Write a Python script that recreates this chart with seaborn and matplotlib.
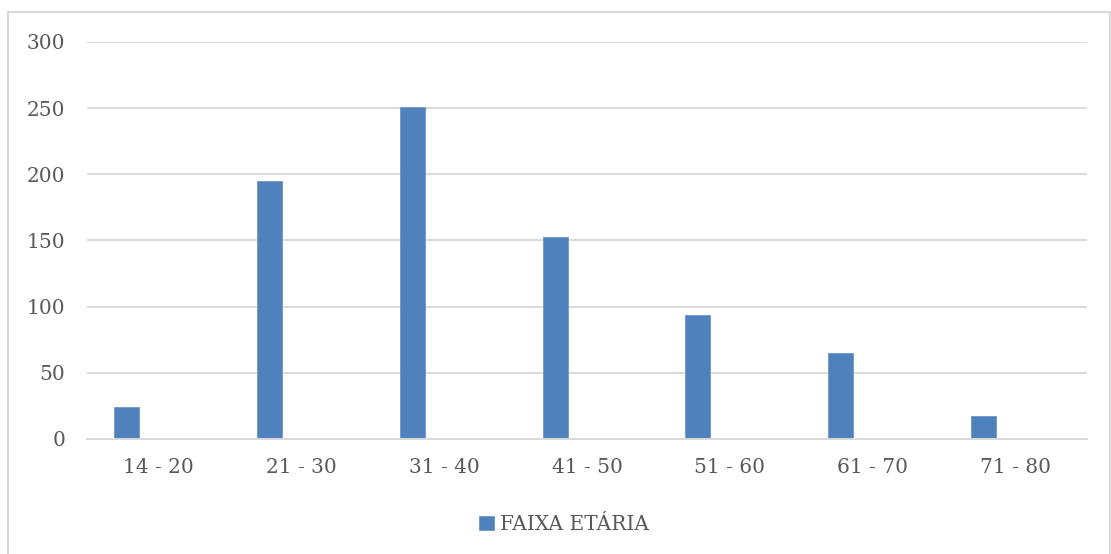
import matplotlib
matplotlib.use("Agg")
import matplotlib.pyplot as plt
import seaborn as sns
import pandas as pd
from matplotlib.patches import Rectangle

# Age bands and respondent counts
faixas = ["14 - 20", "21 - 30", "31 - 40", "41 - 50", "51 - 60", "61 - 70", "71 - 80"]
contagens = [24, 195, 251, 153, 94, 65, 17]
serie = "FAIXA ETÁRIA"

df = pd.DataFrame({"faixa": faixas, "total": contagens})

sns.set_theme(style="white")
plt.rcParams["font.family"] = ["DejaVu Serif"]

cor_barra = "#4f81bd"
cor_texto = "#595959"
cor_grade = "#d9d9d9"

fig = plt.figure(figsize=(11.11, 5.54), dpi=100)
ax = fig.add_axes([0.0783, 0.2076, 0.9001, 0.7166])

sns.barplot(data=df, x="faixa", y="total", color=cor_barra, width=0.175,
            ax=ax, label=serie, saturation=1, edgecolor="#6f97c9", linewidth=0.6)

# Bars sit in the left part of each category slot
for p in ax.patches:
    p.set_x(p.get_x() - 0.223)

ax.set_xlim(-0.5, len(faixas) - 0.5)
ax.set_ylim(0, 300)
ax.set_yticks(range(0, 301, 50))
ax.yaxis.grid(True, color=cor_grade, linewidth=1.4)
ax.set_axisbelow(True)
for s in ["top", "right", "left"]:
    ax.spines[s].set_visible(False)
ax.spines["bottom"].set_color(cor_grade)
ax.spines["bottom"].set_linewidth(1.4)
ax.set_xlabel("")
ax.set_ylabel("")
ax.tick_params(axis="both", length=0, labelsize=14.5, colors=cor_texto)
ax.tick_params(axis="y", pad=15.5)
ax.tick_params(axis="x", pad=14)

leg = ax.legend(loc="center", bbox_to_anchor=(0.477, -0.215), frameon=False,
                fontsize=14.5, handlelength=0.7, handleheight=0.7, handletextpad=0.3)
for t in leg.get_texts():
    t.set_color(cor_texto)

# Chart frame
fig.patches.append(Rectangle((8 / 1111, -0.01), 1101.5 / 1111, 1 - 12 / 554 + 0.01,
                             transform=fig.transFigure, fill=False,
                             edgecolor=cor_grade, linewidth=1.5))

fig.savefig("out.png", dpi=100, facecolor="white")
